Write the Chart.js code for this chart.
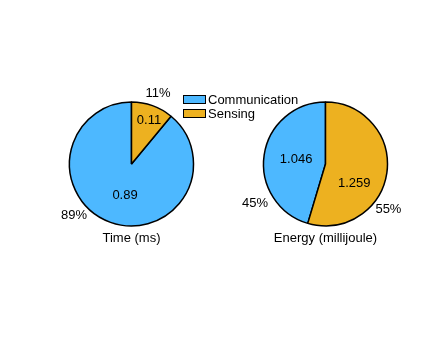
<!DOCTYPE html>
<html>
<head>
<meta charset="utf-8">
<script src="https://cdn.jsdelivr.net/npm/chart.js@4/dist/chart.umd.min.js"></script>
<style>
  body { margin: 0; background: #fff; width: 443px; height: 341px; position: relative; overflow: hidden;
         font-family: "Liberation Sans", Arial, sans-serif; }
  canvas { position: absolute; }
  #timeChart { left: 31px; top: 64px; }
  #energyChart { left: 225px; top: 64px; }
  .legend { position: absolute; left: 183px; top: 92px; font-size: 13px; color: #000; z-index: 2; }
  .legend-row { display: flex; align-items: center; height: 14px; }
  .legend-box { width: 23px; height: 9px; box-sizing: border-box; border: 1px solid #000; margin-right: 2px; }
</style>
</head>
<body>
<canvas id="timeChart" width="201" height="200"></canvas>
<canvas id="energyChart" width="201" height="200"></canvas>
<div class="legend" id="legend"></div>
<script>
// Chart data
const sliceLabels = ['Communication', 'Sensing'];
const timeValues = [0.89, 0.11];
const energyValues = [1.046, 1.259];
const chartTitles = ['Time (ms)', 'Energy (millijoule)'];

const sliceColors = ['#4db8ff', '#edb120'];

// Legend
const legendEl = document.getElementById('legend');
sliceLabels.forEach((label, i) => {
  const row = document.createElement('div');
  row.className = 'legend-row';
  row.innerHTML = `<span class="legend-box" style="background:${sliceColors[i]}"></span><span>${label}</span>`;
  legendEl.appendChild(row);
});

// label placement: angle shift (deg) from slice middle and radius factor
const timePlacement = {
  value: [{ shift: -8, r: 0.51 }, { shift: 2, r: 0.76 }],
  pct: [{ shift: 28.6, r: 1.24 }, { shift: 0.7, r: 1.22 }],
};
const energyPlacement = {
  value: [{ shift: 0.7, r: 0.48 }, { shift: 26, r: 0.56 }],
  pct: [{ shift: -37.4, r: 1.3 }, { shift: 27.4, r: 1.25 }],
};

const pieLabels = {
  id: 'pieLabels',
  afterDatasetsDraw(chart, args, opts) {
    const ctx = chart.ctx;
    const meta = chart.getDatasetMeta(0);
    const values = chart.data.datasets[0].data;
    const total = values.reduce((a, b) => a + b, 0);
    ctx.save();
    ctx.font = '13px "Liberation Sans", Arial, sans-serif';
    ctx.fillStyle = '#000';
    ctx.textAlign = 'center';
    ctx.textBaseline = 'middle';
    let cx = 0, cy = 0, rad = 0;
    meta.data.forEach((arc, i) => {
      const p = arc.getProps(['x', 'y', 'startAngle', 'endAngle', 'outerRadius'], true);
      cx = p.x; cy = p.y; rad = p.outerRadius;
      const mid = (p.startAngle + p.endAngle) / 2;
      const v = opts.placement.value[i];
      const a1 = mid + v.shift * Math.PI / 180;
      ctx.fillText(String(values[i]), p.x + Math.cos(a1) * rad * v.r, p.y + Math.sin(a1) * rad * v.r);
      const q = opts.placement.pct[i];
      const a2 = mid + q.shift * Math.PI / 180;
      const pct = Math.round(values[i] / total * 100) + '%';
      ctx.fillText(pct, p.x + Math.cos(a2) * rad * q.r, p.y + Math.sin(a2) * rad * q.r);
    });
    ctx.fillText(opts.title, cx, cy + rad + 12);
    ctx.restore();
  },
};

function makePie(id, values, title, placement) {
  const total = values.reduce((a, b) => a + b, 0);
  return new Chart(document.getElementById(id), {
    type: 'pie',
    data: {
      labels: sliceLabels,
      datasets: [{
        data: values,
        backgroundColor: sliceColors,
        borderColor: '#000',
        borderWidth: 1.5,
      }],
    },
    options: {
      responsive: false,
      animation: false,
      radius: 62,
      rotation: values[1] / total * 360,
      layout: { padding: 0 },
      plugins: {
        legend: { display: false },
        tooltip: { enabled: false },
        pieLabels: { title, placement },
      },
    },
    plugins: [pieLabels],
  });
}

makePie('timeChart', timeValues, chartTitles[0], timePlacement);
makePie('energyChart', energyValues, chartTitles[1], energyPlacement);
</script>
</body>
</html>
